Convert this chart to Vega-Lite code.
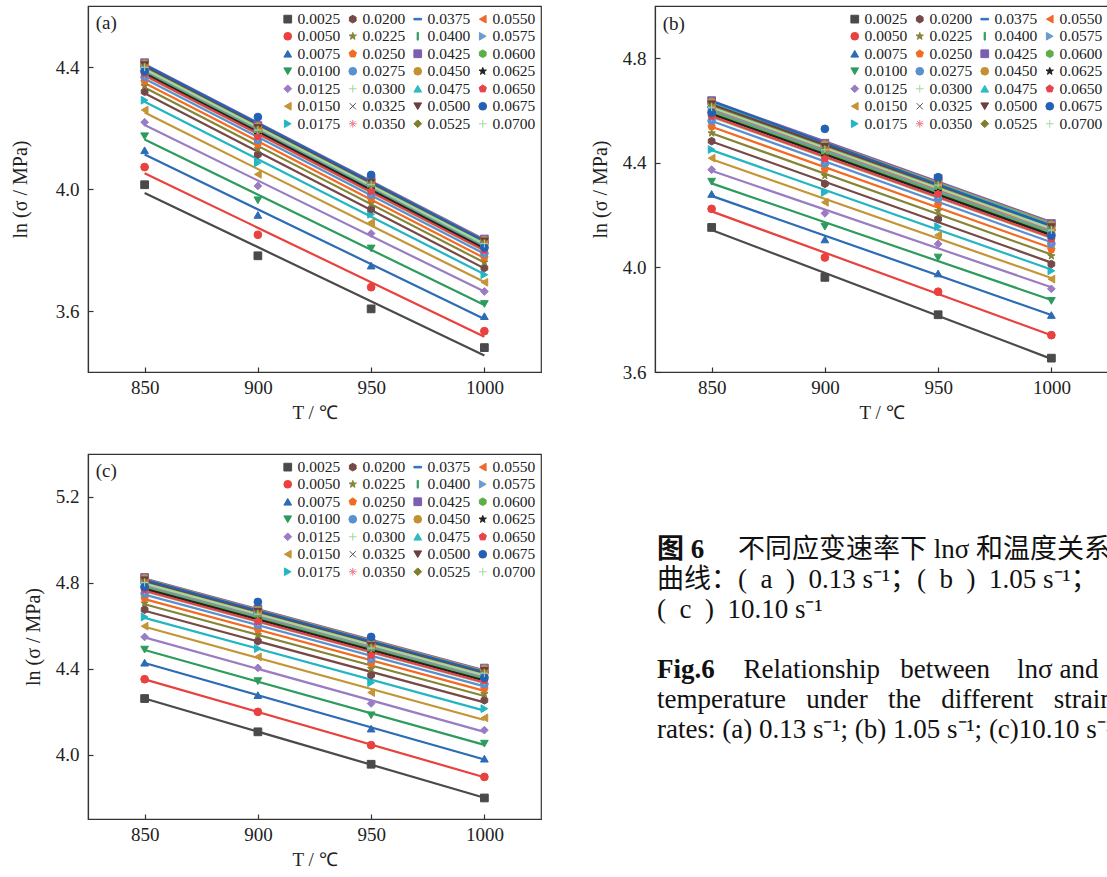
{
"$schema": "https://vega.github.io/schema/vega-lite/v6.json",
"padding": {"left": 9, "top": 5, "right": 0, "bottom": 0},
"background": "white",
"config": {
 "font": "Liberation Serif",
 "style": {"guide-label": {"font": "Liberation Serif"}, "guide-title": {"font": "Liberation Serif"}},
 "view": {"stroke": "#333", "strokeWidth": 1.2},
 "axis": {"grid": false, "domainColor": "#333", "domainWidth": 1.2, "tickColor": "#333", "tickSize": -5, "tickWidth": 1.2, "labelFont": "Liberation Serif", "labelFontSize": 19, "labelColor": "#222", "titleFont": "Liberation Serif", "titleFontWeight": "normal", "titleColor": "#222"},
 "axisX": {"labelPadding": 11, "titleFontSize": 19, "titlePadding": 6},
 "axisY": {"labelPadding": 14, "titleFontSize": 20},
 "legend": {"orient": "top-right", "offset": 5, "padding": 0, "columns": 4, "labelFont": "Liberation Serif", "labelFontSize": 15.5, "labelColor": "#222", "symbolSize": 60, "symbolStrokeWidth": 1, "rowPadding": 0.5, "columnPadding": 4, "labelOffset": 2}
},
"datasets": {"pts": [
{"p":"a","s":"0.0025","T":850,"v":4.014},{"p":"a","s":"0.0025","T":900,"v":3.781},{"p":"a","s":"0.0025","T":950,"v":3.607},{"p":"a","s":"0.0025","T":1000,"v":3.480},
{"p":"a","s":"0.0050","T":850,"v":4.072},{"p":"a","s":"0.0050","T":900,"v":3.850},{"p":"a","s":"0.0050","T":950,"v":3.678},{"p":"a","s":"0.0050","T":1000,"v":3.534},
{"p":"a","s":"0.0075","T":850,"v":4.127},{"p":"a","s":"0.0075","T":900,"v":3.915},{"p":"a","s":"0.0075","T":950,"v":3.749},{"p":"a","s":"0.0075","T":1000,"v":3.583},
{"p":"a","s":"0.0100","T":850,"v":4.173},{"p":"a","s":"0.0100","T":900,"v":3.963},{"p":"a","s":"0.0100","T":950,"v":3.805},{"p":"a","s":"0.0100","T":1000,"v":3.623},
{"p":"a","s":"0.0125","T":850,"v":4.219},{"p":"a","s":"0.0125","T":900,"v":4.010},{"p":"a","s":"0.0125","T":950,"v":3.854},{"p":"a","s":"0.0125","T":1000,"v":3.664},
{"p":"a","s":"0.0150","T":850,"v":4.259},{"p":"a","s":"0.0150","T":900,"v":4.048},{"p":"a","s":"0.0150","T":950,"v":3.890},{"p":"a","s":"0.0150","T":1000,"v":3.694},
{"p":"a","s":"0.0175","T":850,"v":4.291},{"p":"a","s":"0.0175","T":900,"v":4.086},{"p":"a","s":"0.0175","T":950,"v":3.917},{"p":"a","s":"0.0175","T":1000,"v":3.719},
{"p":"a","s":"0.0200","T":850,"v":4.319},{"p":"a","s":"0.0200","T":900,"v":4.113},{"p":"a","s":"0.0200","T":950,"v":3.934},{"p":"a","s":"0.0200","T":1000,"v":3.741},
{"p":"a","s":"0.0225","T":850,"v":4.338},{"p":"a","s":"0.0225","T":900,"v":4.132},{"p":"a","s":"0.0225","T":950,"v":3.953},{"p":"a","s":"0.0225","T":1000,"v":3.760},
{"p":"a","s":"0.0250","T":850,"v":4.353},{"p":"a","s":"0.0250","T":900,"v":4.147},{"p":"a","s":"0.0250","T":950,"v":3.968},{"p":"a","s":"0.0250","T":1000,"v":3.775},
{"p":"a","s":"0.0275","T":850,"v":4.367},{"p":"a","s":"0.0275","T":900,"v":4.161},{"p":"a","s":"0.0275","T":950,"v":3.982},{"p":"a","s":"0.0275","T":1000,"v":3.789},
{"p":"a","s":"0.0300","T":850,"v":4.376},{"p":"a","s":"0.0300","T":900,"v":4.170},{"p":"a","s":"0.0300","T":950,"v":3.991},{"p":"a","s":"0.0300","T":1000,"v":3.798},
{"p":"a","s":"0.0325","T":850,"v":4.384},{"p":"a","s":"0.0325","T":900,"v":4.178},{"p":"a","s":"0.0325","T":950,"v":3.999},{"p":"a","s":"0.0325","T":1000,"v":3.806},
{"p":"a","s":"0.0350","T":850,"v":4.391},{"p":"a","s":"0.0350","T":900,"v":4.185},{"p":"a","s":"0.0350","T":950,"v":4.006},{"p":"a","s":"0.0350","T":1000,"v":3.813},
{"p":"a","s":"0.0375","T":850,"v":4.399},{"p":"a","s":"0.0375","T":900,"v":4.193},{"p":"a","s":"0.0375","T":950,"v":4.014},{"p":"a","s":"0.0375","T":1000,"v":3.821},
{"p":"a","s":"0.0400","T":850,"v":4.406},{"p":"a","s":"0.0400","T":900,"v":4.200},{"p":"a","s":"0.0400","T":950,"v":4.021},{"p":"a","s":"0.0400","T":1000,"v":3.828},
{"p":"a","s":"0.0425","T":850,"v":4.414},{"p":"a","s":"0.0425","T":900,"v":4.208},{"p":"a","s":"0.0425","T":950,"v":4.029},{"p":"a","s":"0.0425","T":1000,"v":3.836},
{"p":"a","s":"0.0450","T":850,"v":4.411},{"p":"a","s":"0.0450","T":900,"v":4.205},{"p":"a","s":"0.0450","T":950,"v":4.026},{"p":"a","s":"0.0450","T":1000,"v":3.833},
{"p":"a","s":"0.0475","T":850,"v":4.408},{"p":"a","s":"0.0475","T":900,"v":4.202},{"p":"a","s":"0.0475","T":950,"v":4.023},{"p":"a","s":"0.0475","T":1000,"v":3.830},
{"p":"a","s":"0.0500","T":850,"v":4.406},{"p":"a","s":"0.0500","T":900,"v":4.200},{"p":"a","s":"0.0500","T":950,"v":4.021},{"p":"a","s":"0.0500","T":1000,"v":3.828},
{"p":"a","s":"0.0525","T":850,"v":4.401},{"p":"a","s":"0.0525","T":900,"v":4.195},{"p":"a","s":"0.0525","T":950,"v":4.016},{"p":"a","s":"0.0525","T":1000,"v":3.823},
{"p":"a","s":"0.0550","T":850,"v":4.395},{"p":"a","s":"0.0550","T":900,"v":4.189},{"p":"a","s":"0.0550","T":950,"v":4.010},{"p":"a","s":"0.0550","T":1000,"v":3.817},
{"p":"a","s":"0.0575","T":850,"v":4.391},{"p":"a","s":"0.0575","T":900,"v":4.185},{"p":"a","s":"0.0575","T":950,"v":4.006},{"p":"a","s":"0.0575","T":1000,"v":3.813},
{"p":"a","s":"0.0600","T":850,"v":4.387},{"p":"a","s":"0.0600","T":900,"v":4.181},{"p":"a","s":"0.0600","T":950,"v":4.002},{"p":"a","s":"0.0600","T":1000,"v":3.809},
{"p":"a","s":"0.0625","T":850,"v":4.384},{"p":"a","s":"0.0625","T":900,"v":4.178},{"p":"a","s":"0.0625","T":950,"v":3.999},{"p":"a","s":"0.0625","T":1000,"v":3.806},
{"p":"a","s":"0.0650","T":850,"v":4.378},{"p":"a","s":"0.0650","T":900,"v":4.172},{"p":"a","s":"0.0650","T":950,"v":3.993},{"p":"a","s":"0.0650","T":1000,"v":3.800},
{"p":"a","s":"0.0675","T":850,"v":4.386},{"p":"a","s":"0.0675","T":900,"v":4.236},{"p":"a","s":"0.0675","T":950,"v":4.046},{"p":"a","s":"0.0675","T":1000,"v":3.808},
{"p":"a","s":"0.0700","T":850,"v":4.399},{"p":"a","s":"0.0700","T":900,"v":4.193},{"p":"a","s":"0.0700","T":950,"v":4.014},{"p":"a","s":"0.0700","T":1000,"v":3.821},
{"p":"b","s":"0.0025","T":850,"v":4.153},{"p":"b","s":"0.0025","T":900,"v":3.962},{"p":"b","s":"0.0025","T":950,"v":3.819},{"p":"b","s":"0.0025","T":1000,"v":3.653},
{"p":"b","s":"0.0050","T":850,"v":4.224},{"p":"b","s":"0.0050","T":900,"v":4.038},{"p":"b","s":"0.0050","T":950,"v":3.907},{"p":"b","s":"0.0050","T":1000,"v":3.741},
{"p":"b","s":"0.0075","T":850,"v":4.281},{"p":"b","s":"0.0075","T":900,"v":4.107},{"p":"b","s":"0.0075","T":950,"v":3.977},{"p":"b","s":"0.0075","T":1000,"v":3.818},
{"p":"b","s":"0.0100","T":850,"v":4.328},{"p":"b","s":"0.0100","T":900,"v":4.156},{"p":"b","s":"0.0100","T":950,"v":4.038},{"p":"b","s":"0.0100","T":1000,"v":3.872},
{"p":"b","s":"0.0125","T":850,"v":4.374},{"p":"b","s":"0.0125","T":900,"v":4.207},{"p":"b","s":"0.0125","T":950,"v":4.090},{"p":"b","s":"0.0125","T":1000,"v":3.918},
{"p":"b","s":"0.0150","T":850,"v":4.418},{"p":"b","s":"0.0150","T":900,"v":4.249},{"p":"b","s":"0.0150","T":950,"v":4.124},{"p":"b","s":"0.0150","T":1000,"v":3.955},
{"p":"b","s":"0.0175","T":850,"v":4.451},{"p":"b","s":"0.0175","T":900,"v":4.287},{"p":"b","s":"0.0175","T":950,"v":4.156},{"p":"b","s":"0.0175","T":1000,"v":3.987},
{"p":"b","s":"0.0200","T":850,"v":4.483},{"p":"b","s":"0.0200","T":900,"v":4.320},{"p":"b","s":"0.0200","T":950,"v":4.185},{"p":"b","s":"0.0200","T":1000,"v":4.013},
{"p":"b","s":"0.0225","T":850,"v":4.514},{"p":"b","s":"0.0225","T":900,"v":4.351},{"p":"b","s":"0.0225","T":950,"v":4.216},{"p":"b","s":"0.0225","T":1000,"v":4.044},
{"p":"b","s":"0.0250","T":850,"v":4.539},{"p":"b","s":"0.0250","T":900,"v":4.376},{"p":"b","s":"0.0250","T":950,"v":4.241},{"p":"b","s":"0.0250","T":1000,"v":4.069},
{"p":"b","s":"0.0275","T":850,"v":4.561},{"p":"b","s":"0.0275","T":900,"v":4.398},{"p":"b","s":"0.0275","T":950,"v":4.263},{"p":"b","s":"0.0275","T":1000,"v":4.091},
{"p":"b","s":"0.0300","T":850,"v":4.576},{"p":"b","s":"0.0300","T":900,"v":4.413},{"p":"b","s":"0.0300","T":950,"v":4.278},{"p":"b","s":"0.0300","T":1000,"v":4.106},
{"p":"b","s":"0.0325","T":850,"v":4.588},{"p":"b","s":"0.0325","T":900,"v":4.425},{"p":"b","s":"0.0325","T":950,"v":4.290},{"p":"b","s":"0.0325","T":1000,"v":4.118},
{"p":"b","s":"0.0350","T":850,"v":4.601},{"p":"b","s":"0.0350","T":900,"v":4.438},{"p":"b","s":"0.0350","T":950,"v":4.303},{"p":"b","s":"0.0350","T":1000,"v":4.131},
{"p":"b","s":"0.0375","T":850,"v":4.613},{"p":"b","s":"0.0375","T":900,"v":4.450},{"p":"b","s":"0.0375","T":950,"v":4.315},{"p":"b","s":"0.0375","T":1000,"v":4.143},
{"p":"b","s":"0.0400","T":850,"v":4.624},{"p":"b","s":"0.0400","T":900,"v":4.461},{"p":"b","s":"0.0400","T":950,"v":4.326},{"p":"b","s":"0.0400","T":1000,"v":4.154},
{"p":"b","s":"0.0425","T":850,"v":4.638},{"p":"b","s":"0.0425","T":900,"v":4.475},{"p":"b","s":"0.0425","T":950,"v":4.340},{"p":"b","s":"0.0425","T":1000,"v":4.168},
{"p":"b","s":"0.0450","T":850,"v":4.633},{"p":"b","s":"0.0450","T":900,"v":4.470},{"p":"b","s":"0.0450","T":950,"v":4.335},{"p":"b","s":"0.0450","T":1000,"v":4.163},
{"p":"b","s":"0.0475","T":850,"v":4.629},{"p":"b","s":"0.0475","T":900,"v":4.466},{"p":"b","s":"0.0475","T":950,"v":4.331},{"p":"b","s":"0.0475","T":1000,"v":4.159},
{"p":"b","s":"0.0500","T":850,"v":4.624},{"p":"b","s":"0.0500","T":900,"v":4.461},{"p":"b","s":"0.0500","T":950,"v":4.326},{"p":"b","s":"0.0500","T":1000,"v":4.154},
{"p":"b","s":"0.0525","T":850,"v":4.616},{"p":"b","s":"0.0525","T":900,"v":4.453},{"p":"b","s":"0.0525","T":950,"v":4.318},{"p":"b","s":"0.0525","T":1000,"v":4.146},
{"p":"b","s":"0.0550","T":850,"v":4.607},{"p":"b","s":"0.0550","T":900,"v":4.444},{"p":"b","s":"0.0550","T":950,"v":4.309},{"p":"b","s":"0.0550","T":1000,"v":4.137},
{"p":"b","s":"0.0575","T":850,"v":4.601},{"p":"b","s":"0.0575","T":900,"v":4.438},{"p":"b","s":"0.0575","T":950,"v":4.303},{"p":"b","s":"0.0575","T":1000,"v":4.131},
{"p":"b","s":"0.0600","T":850,"v":4.595},{"p":"b","s":"0.0600","T":900,"v":4.432},{"p":"b","s":"0.0600","T":950,"v":4.297},{"p":"b","s":"0.0600","T":1000,"v":4.125},
{"p":"b","s":"0.0625","T":850,"v":4.588},{"p":"b","s":"0.0625","T":900,"v":4.425},{"p":"b","s":"0.0625","T":950,"v":4.290},{"p":"b","s":"0.0625","T":1000,"v":4.118},
{"p":"b","s":"0.0650","T":850,"v":4.579},{"p":"b","s":"0.0650","T":900,"v":4.416},{"p":"b","s":"0.0650","T":950,"v":4.281},{"p":"b","s":"0.0650","T":1000,"v":4.109},
{"p":"b","s":"0.0675","T":850,"v":4.592},{"p":"b","s":"0.0675","T":900,"v":4.530},{"p":"b","s":"0.0675","T":950,"v":4.345},{"p":"b","s":"0.0675","T":1000,"v":4.122},
{"p":"b","s":"0.0700","T":850,"v":4.613},{"p":"b","s":"0.0700","T":900,"v":4.450},{"p":"b","s":"0.0700","T":950,"v":4.315},{"p":"b","s":"0.0700","T":1000,"v":4.143},
{"p":"c","s":"0.0025","T":850,"v":4.261},{"p":"c","s":"0.0025","T":900,"v":4.106},{"p":"c","s":"0.0025","T":950,"v":3.955},{"p":"c","s":"0.0025","T":1000,"v":3.798},
{"p":"c","s":"0.0050","T":850,"v":4.351},{"p":"c","s":"0.0050","T":900,"v":4.199},{"p":"c","s":"0.0050","T":950,"v":4.044},{"p":"c","s":"0.0050","T":1000,"v":3.896},
{"p":"c","s":"0.0075","T":850,"v":4.428},{"p":"c","s":"0.0075","T":900,"v":4.277},{"p":"c","s":"0.0075","T":950,"v":4.121},{"p":"c","s":"0.0075","T":1000,"v":3.981},
{"p":"c","s":"0.0100","T":850,"v":4.489},{"p":"c","s":"0.0100","T":900,"v":4.342},{"p":"c","s":"0.0100","T":950,"v":4.183},{"p":"c","s":"0.0100","T":1000,"v":4.051},
{"p":"c","s":"0.0125","T":850,"v":4.548},{"p":"c","s":"0.0125","T":900,"v":4.404},{"p":"c","s":"0.0125","T":950,"v":4.238},{"p":"c","s":"0.0125","T":1000,"v":4.114},
{"p":"c","s":"0.0150","T":850,"v":4.598},{"p":"c","s":"0.0150","T":900,"v":4.455},{"p":"c","s":"0.0150","T":950,"v":4.289},{"p":"c","s":"0.0150","T":1000,"v":4.171},
{"p":"c","s":"0.0175","T":850,"v":4.641},{"p":"c","s":"0.0175","T":900,"v":4.494},{"p":"c","s":"0.0175","T":950,"v":4.335},{"p":"c","s":"0.0175","T":1000,"v":4.214},
{"p":"c","s":"0.0200","T":850,"v":4.675},{"p":"c","s":"0.0200","T":900,"v":4.528},{"p":"c","s":"0.0200","T":950,"v":4.370},{"p":"c","s":"0.0200","T":1000,"v":4.253},
{"p":"c","s":"0.0225","T":850,"v":4.705},{"p":"c","s":"0.0225","T":900,"v":4.558},{"p":"c","s":"0.0225","T":950,"v":4.400},{"p":"c","s":"0.0225","T":1000,"v":4.283},
{"p":"c","s":"0.0250","T":850,"v":4.729},{"p":"c","s":"0.0250","T":900,"v":4.582},{"p":"c","s":"0.0250","T":950,"v":4.424},{"p":"c","s":"0.0250","T":1000,"v":4.307},
{"p":"c","s":"0.0275","T":850,"v":4.750},{"p":"c","s":"0.0275","T":900,"v":4.603},{"p":"c","s":"0.0275","T":950,"v":4.445},{"p":"c","s":"0.0275","T":1000,"v":4.328},
{"p":"c","s":"0.0300","T":850,"v":4.765},{"p":"c","s":"0.0300","T":900,"v":4.618},{"p":"c","s":"0.0300","T":950,"v":4.460},{"p":"c","s":"0.0300","T":1000,"v":4.343},
{"p":"c","s":"0.0325","T":850,"v":4.777},{"p":"c","s":"0.0325","T":900,"v":4.630},{"p":"c","s":"0.0325","T":950,"v":4.472},{"p":"c","s":"0.0325","T":1000,"v":4.355},
{"p":"c","s":"0.0350","T":850,"v":4.789},{"p":"c","s":"0.0350","T":900,"v":4.642},{"p":"c","s":"0.0350","T":950,"v":4.484},{"p":"c","s":"0.0350","T":1000,"v":4.367},
{"p":"c","s":"0.0375","T":850,"v":4.801},{"p":"c","s":"0.0375","T":900,"v":4.654},{"p":"c","s":"0.0375","T":950,"v":4.496},{"p":"c","s":"0.0375","T":1000,"v":4.379},
{"p":"c","s":"0.0400","T":850,"v":4.812},{"p":"c","s":"0.0400","T":900,"v":4.665},{"p":"c","s":"0.0400","T":950,"v":4.507},{"p":"c","s":"0.0400","T":1000,"v":4.390},
{"p":"c","s":"0.0425","T":850,"v":4.825},{"p":"c","s":"0.0425","T":900,"v":4.678},{"p":"c","s":"0.0425","T":950,"v":4.520},{"p":"c","s":"0.0425","T":1000,"v":4.403},
{"p":"c","s":"0.0450","T":850,"v":4.821},{"p":"c","s":"0.0450","T":900,"v":4.674},{"p":"c","s":"0.0450","T":950,"v":4.516},{"p":"c","s":"0.0450","T":1000,"v":4.399},
{"p":"c","s":"0.0475","T":850,"v":4.816},{"p":"c","s":"0.0475","T":900,"v":4.669},{"p":"c","s":"0.0475","T":950,"v":4.511},{"p":"c","s":"0.0475","T":1000,"v":4.394},
{"p":"c","s":"0.0500","T":850,"v":4.812},{"p":"c","s":"0.0500","T":900,"v":4.665},{"p":"c","s":"0.0500","T":950,"v":4.507},{"p":"c","s":"0.0500","T":1000,"v":4.390},
{"p":"c","s":"0.0525","T":850,"v":4.804},{"p":"c","s":"0.0525","T":900,"v":4.657},{"p":"c","s":"0.0525","T":950,"v":4.499},{"p":"c","s":"0.0525","T":1000,"v":4.382},
{"p":"c","s":"0.0550","T":850,"v":4.795},{"p":"c","s":"0.0550","T":900,"v":4.648},{"p":"c","s":"0.0550","T":950,"v":4.490},{"p":"c","s":"0.0550","T":1000,"v":4.373},
{"p":"c","s":"0.0575","T":850,"v":4.789},{"p":"c","s":"0.0575","T":900,"v":4.642},{"p":"c","s":"0.0575","T":950,"v":4.484},{"p":"c","s":"0.0575","T":1000,"v":4.367},
{"p":"c","s":"0.0600","T":850,"v":4.783},{"p":"c","s":"0.0600","T":900,"v":4.636},{"p":"c","s":"0.0600","T":950,"v":4.478},{"p":"c","s":"0.0600","T":1000,"v":4.361},
{"p":"c","s":"0.0625","T":850,"v":4.777},{"p":"c","s":"0.0625","T":900,"v":4.630},{"p":"c","s":"0.0625","T":950,"v":4.472},{"p":"c","s":"0.0625","T":1000,"v":4.355},
{"p":"c","s":"0.0650","T":850,"v":4.768},{"p":"c","s":"0.0650","T":900,"v":4.621},{"p":"c","s":"0.0650","T":950,"v":4.463},{"p":"c","s":"0.0650","T":1000,"v":4.346},
{"p":"c","s":"0.0675","T":850,"v":4.780},{"p":"c","s":"0.0675","T":900,"v":4.711},{"p":"c","s":"0.0675","T":950,"v":4.548},{"p":"c","s":"0.0675","T":1000,"v":4.358},
{"p":"c","s":"0.0700","T":850,"v":4.801},{"p":"c","s":"0.0700","T":900,"v":4.654},{"p":"c","s":"0.0700","T":950,"v":4.496},{"p":"c","s":"0.0700","T":1000,"v":4.379}
]},
"columns": 2,
"spacing": {"row": 82, "column": 114},
"bounds": "flush",
"resolve": {"scale": {"color": "independent", "fill": "independent", "stroke": "independent", "shape": "independent"}, "legend": {"color": "independent", "fill": "independent", "stroke": "independent", "shape": "independent"}},
"concat": [
{
 "width": 453, "height": 366,
 "layer": [
  {"data": {"name": "pts"},
   "transform": [{"filter": {"field": "p", "equal": "a"}}, {"regression": "v", "on": "T", "groupby": ["s"], "extent": [850, 1000]}],
   "mark": {"type": "line", "strokeWidth": 2.2},
   "encoding": {
    "x": {"field": "T", "type": "quantitative", "scale": {"domain": [825, 1025], "nice": false, "zero": false}, "axis": {"values": [850, 900, 950, 1000], "format": "d", "title": "T / ℃", "labelFont": "Liberation Serif", "titleFont": "Liberation Serif"}},
    "y": {"field": "v", "type": "quantitative", "scale": {"domain": [3.4, 4.6], "nice": false, "zero": false}, "axis": {"values": [3.6, 4.0, 4.4], "format": ".1f", "title": "ln (σ / MPa)", "titlePadding": 25, "labelFont": "Liberation Serif", "titleFont": "Liberation Serif"}},
    "color": {"field": "s", "type": "nominal", "scale": {"domain": ["0.0025","0.0200","0.0375","0.0550","0.0050","0.0225","0.0400","0.0575","0.0075","0.0250","0.0425","0.0600","0.0100","0.0275","0.0450","0.0625","0.0125","0.0300","0.0475","0.0650","0.0150","0.0325","0.0500","0.0675","0.0175","0.0350","0.0525","0.0700"], "range": ["#4a4a4a","#774848","#2e6fc0","#f0692a","#e8413e","#85853a","#2e9b5e","#6a9bd1","#2b6cb5","#f26b21","#7a5fb0","#5eae47","#2e9b5e","#5a8fd0","#c29232","#222222","#9a7cc4","#a6d6a0","#2cbcbc","#e8424a","#c49435","#555555","#6e3e3e","#2361b5","#23b5c3","#f07a86","#7d7d2a","#a0d8a8"]}, "legend": null}
   }},
  {"data": {"name": "pts"},
   "transform": [{"filter": {"field": "p", "equal": "a"}}],
   "mark": {"type": "point", "filled": true, "opacity": 1, "size": 60, "strokeWidth": 1},
   "encoding": {
    "x": {"field": "T", "type": "quantitative"},
    "y": {"field": "v", "type": "quantitative"},
    "fill": {"field": "s", "type": "nominal", "scale": {"domain": ["0.0025","0.0050","0.0075","0.0100","0.0125","0.0150","0.0175","0.0200","0.0225","0.0250","0.0275","0.0300","0.0325","0.0350","0.0375","0.0400","0.0425","0.0450","0.0475","0.0500","0.0525","0.0550","0.0575","0.0600","0.0625","0.0650","0.0675","0.0700"], "range": ["#4a4a4a","#e8413e","#2b6cb5","#2e9b5e","#9a7cc4","#c49435","#23b5c3","#774848","#85853a","#f26b21","#5a8fd0","#a6d6a0","#555555","#f07a86","#2e6fc0","#2e9b5e","#7a5fb0","#c29232","#2cbcbc","#6e3e3e","#7d7d2a","#f0692a","#6a9bd1","#5eae47","#222222","#e8424a","#2361b5","#a0d8a8"]}, "legend": {"title": null}},
    "stroke": {"field": "s", "type": "nominal", "scale": {"domain": ["0.0025","0.0050","0.0075","0.0100","0.0125","0.0150","0.0175","0.0200","0.0225","0.0250","0.0275","0.0300","0.0325","0.0350","0.0375","0.0400","0.0425","0.0450","0.0475","0.0500","0.0525","0.0550","0.0575","0.0600","0.0625","0.0650","0.0675","0.0700"], "range": ["#4a4a4a","#e8413e","#2b6cb5","#2e9b5e","#9a7cc4","#c49435","#23b5c3","#774848","#85853a","#f26b21","#5a8fd0","#a6d6a0","#555555","#f07a86","#2e6fc0","#2e9b5e","#7a5fb0","#c29232","#2cbcbc","#6e3e3e","#7d7d2a","#f0692a","#6a9bd1","#5eae47","#222222","#e8424a","#2361b5","#a0d8a8"]}, "legend": {"title": null}},
    "shape": {"field": "s", "type": "nominal", "scale": {"domain": ["0.0025","0.0050","0.0075","0.0100","0.0125","0.0150","0.0175","0.0200","0.0225","0.0250","0.0275","0.0300","0.0325","0.0350","0.0375","0.0400","0.0425","0.0450","0.0475","0.0500","0.0525","0.0550","0.0575","0.0600","0.0625","0.0650","0.0675","0.0700"], "range": ["square","circle","triangle-up","triangle-down","diamond","triangle-left","triangle-right","M0,-1L0.866,-0.5L0.866,0.5L0,1L-0.866,0.5L-0.866,-0.5Z","M0,-1L0.235,-0.324L0.951,-0.309L0.38,0.124L0.588,0.809L0,0.4L-0.588,0.809L-0.38,0.124L-0.951,-0.309L-0.235,-0.324Z","M0,-1L0.951,-0.309L0.588,0.809L-0.588,0.809L-0.951,-0.309Z","circle","M-1,0L1,0M0,-1L0,1","M-0.8,-0.8L0.8,0.8M-0.8,0.8L0.8,-0.8","M-1,0L1,0M0,-1L0,1M-0.7,-0.7L0.7,0.7M-0.7,0.7L0.7,-0.7","M-1,-0.2L1,-0.2L1,0.2L-1,0.2Z","M-0.15,-1L0.15,-1L0.15,1L-0.15,1Z","square","circle","triangle-up","triangle-down","diamond","triangle-left","triangle-right","M0,-1L0.866,-0.5L0.866,0.5L0,1L-0.866,0.5L-0.866,-0.5Z","M0,-1L0.235,-0.324L0.951,-0.309L0.38,0.124L0.588,0.809L0,0.4L-0.588,0.809L-0.38,0.124L-0.951,-0.309L-0.235,-0.324Z","M0,-1L0.951,-0.309L0.588,0.809L-0.588,0.809L-0.951,-0.309Z","circle","M-1,0L1,0M0,-1L0,1"]}, "legend": {"title": null}}
   }},
  {"data": {"values": [{"lab": "(a)"}]},
   "mark": {"type": "text", "align": "left", "baseline": "middle", "fontSize": 19, "font": "Liberation Serif", "color": "#222"},
   "encoding": {"x": {"datum": 828.4, "type": "quantitative"}, "y": {"datum": 4.543, "type": "quantitative"}, "text": {"field": "lab"}}}
 ]
},
{
 "width": 453, "height": 366,
 "layer": [
  {"data": {"name": "pts"},
   "transform": [{"filter": {"field": "p", "equal": "b"}}, {"regression": "v", "on": "T", "groupby": ["s"], "extent": [850, 1000]}],
   "mark": {"type": "line", "strokeWidth": 2.2},
   "encoding": {
    "x": {"field": "T", "type": "quantitative", "scale": {"domain": [825, 1025], "nice": false, "zero": false}, "axis": {"values": [850, 900, 950, 1000], "format": "d", "title": "T / ℃", "labelFont": "Liberation Serif", "titleFont": "Liberation Serif"}},
    "y": {"field": "v", "type": "quantitative", "scale": {"domain": [3.6, 5.0], "nice": false, "zero": false}, "axis": {"values": [3.6, 4.0, 4.4, 4.8], "format": ".1f", "title": "ln (σ / MPa)", "titlePadding": 12, "labelFont": "Liberation Serif", "titleFont": "Liberation Serif"}},
    "color": {"field": "s", "type": "nominal", "scale": {"domain": ["0.0025","0.0200","0.0375","0.0550","0.0050","0.0225","0.0400","0.0575","0.0075","0.0250","0.0425","0.0600","0.0100","0.0275","0.0450","0.0625","0.0125","0.0300","0.0475","0.0650","0.0150","0.0325","0.0500","0.0675","0.0175","0.0350","0.0525","0.0700"], "range": ["#4a4a4a","#774848","#2e6fc0","#f0692a","#e8413e","#85853a","#2e9b5e","#6a9bd1","#2b6cb5","#f26b21","#7a5fb0","#5eae47","#2e9b5e","#5a8fd0","#c29232","#222222","#9a7cc4","#a6d6a0","#2cbcbc","#e8424a","#c49435","#555555","#6e3e3e","#2361b5","#23b5c3","#f07a86","#7d7d2a","#a0d8a8"]}, "legend": null}
   }},
  {"data": {"name": "pts"},
   "transform": [{"filter": {"field": "p", "equal": "b"}}],
   "mark": {"type": "point", "filled": true, "opacity": 1, "size": 60, "strokeWidth": 1},
   "encoding": {
    "x": {"field": "T", "type": "quantitative"},
    "y": {"field": "v", "type": "quantitative"},
    "fill": {"field": "s", "type": "nominal", "scale": {"domain": ["0.0025","0.0050","0.0075","0.0100","0.0125","0.0150","0.0175","0.0200","0.0225","0.0250","0.0275","0.0300","0.0325","0.0350","0.0375","0.0400","0.0425","0.0450","0.0475","0.0500","0.0525","0.0550","0.0575","0.0600","0.0625","0.0650","0.0675","0.0700"], "range": ["#4a4a4a","#e8413e","#2b6cb5","#2e9b5e","#9a7cc4","#c49435","#23b5c3","#774848","#85853a","#f26b21","#5a8fd0","#a6d6a0","#555555","#f07a86","#2e6fc0","#2e9b5e","#7a5fb0","#c29232","#2cbcbc","#6e3e3e","#7d7d2a","#f0692a","#6a9bd1","#5eae47","#222222","#e8424a","#2361b5","#a0d8a8"]}, "legend": {"title": null}},
    "stroke": {"field": "s", "type": "nominal", "scale": {"domain": ["0.0025","0.0050","0.0075","0.0100","0.0125","0.0150","0.0175","0.0200","0.0225","0.0250","0.0275","0.0300","0.0325","0.0350","0.0375","0.0400","0.0425","0.0450","0.0475","0.0500","0.0525","0.0550","0.0575","0.0600","0.0625","0.0650","0.0675","0.0700"], "range": ["#4a4a4a","#e8413e","#2b6cb5","#2e9b5e","#9a7cc4","#c49435","#23b5c3","#774848","#85853a","#f26b21","#5a8fd0","#a6d6a0","#555555","#f07a86","#2e6fc0","#2e9b5e","#7a5fb0","#c29232","#2cbcbc","#6e3e3e","#7d7d2a","#f0692a","#6a9bd1","#5eae47","#222222","#e8424a","#2361b5","#a0d8a8"]}, "legend": {"title": null}},
    "shape": {"field": "s", "type": "nominal", "scale": {"domain": ["0.0025","0.0050","0.0075","0.0100","0.0125","0.0150","0.0175","0.0200","0.0225","0.0250","0.0275","0.0300","0.0325","0.0350","0.0375","0.0400","0.0425","0.0450","0.0475","0.0500","0.0525","0.0550","0.0575","0.0600","0.0625","0.0650","0.0675","0.0700"], "range": ["square","circle","triangle-up","triangle-down","diamond","triangle-left","triangle-right","M0,-1L0.866,-0.5L0.866,0.5L0,1L-0.866,0.5L-0.866,-0.5Z","M0,-1L0.235,-0.324L0.951,-0.309L0.38,0.124L0.588,0.809L0,0.4L-0.588,0.809L-0.38,0.124L-0.951,-0.309L-0.235,-0.324Z","M0,-1L0.951,-0.309L0.588,0.809L-0.588,0.809L-0.951,-0.309Z","circle","M-1,0L1,0M0,-1L0,1","M-0.8,-0.8L0.8,0.8M-0.8,0.8L0.8,-0.8","M-1,0L1,0M0,-1L0,1M-0.7,-0.7L0.7,0.7M-0.7,0.7L0.7,-0.7","M-1,-0.2L1,-0.2L1,0.2L-1,0.2Z","M-0.15,-1L0.15,-1L0.15,1L-0.15,1Z","square","circle","triangle-up","triangle-down","diamond","triangle-left","triangle-right","M0,-1L0.866,-0.5L0.866,0.5L0,1L-0.866,0.5L-0.866,-0.5Z","M0,-1L0.235,-0.324L0.951,-0.309L0.38,0.124L0.588,0.809L0,0.4L-0.588,0.809L-0.38,0.124L-0.951,-0.309L-0.235,-0.324Z","M0,-1L0.951,-0.309L0.588,0.809L-0.588,0.809L-0.951,-0.309Z","circle","M-1,0L1,0M0,-1L0,1"]}, "legend": {"title": null}}
   }},
  {"data": {"values": [{"lab": "(b)"}]},
   "mark": {"type": "text", "align": "left", "baseline": "middle", "fontSize": 19, "font": "Liberation Serif", "color": "#222"},
   "encoding": {"x": {"datum": 828.4, "type": "quantitative"}, "y": {"datum": 4.933, "type": "quantitative"}, "text": {"field": "lab"}}}
 ]
},
{
 "width": 453, "height": 365,
 "layer": [
  {"data": {"name": "pts"},
   "transform": [{"filter": {"field": "p", "equal": "c"}}, {"regression": "v", "on": "T", "groupby": ["s"], "extent": [850, 1000]}],
   "mark": {"type": "line", "strokeWidth": 2.2},
   "encoding": {
    "x": {"field": "T", "type": "quantitative", "scale": {"domain": [825, 1025], "nice": false, "zero": false}, "axis": {"values": [850, 900, 950, 1000], "format": "d", "title": "T / ℃", "labelFont": "Liberation Serif", "titleFont": "Liberation Serif"}},
    "y": {"field": "v", "type": "quantitative", "scale": {"domain": [3.7, 5.4], "nice": false, "zero": false}, "axis": {"values": [4.0, 4.4, 4.8, 5.2], "format": ".1f", "title": "ln (σ / MPa)", "titlePadding": 12, "labelFont": "Liberation Serif", "titleFont": "Liberation Serif"}},
    "color": {"field": "s", "type": "nominal", "scale": {"domain": ["0.0025","0.0200","0.0375","0.0550","0.0050","0.0225","0.0400","0.0575","0.0075","0.0250","0.0425","0.0600","0.0100","0.0275","0.0450","0.0625","0.0125","0.0300","0.0475","0.0650","0.0150","0.0325","0.0500","0.0675","0.0175","0.0350","0.0525","0.0700"], "range": ["#4a4a4a","#774848","#2e6fc0","#f0692a","#e8413e","#85853a","#2e9b5e","#6a9bd1","#2b6cb5","#f26b21","#7a5fb0","#5eae47","#2e9b5e","#5a8fd0","#c29232","#222222","#9a7cc4","#a6d6a0","#2cbcbc","#e8424a","#c49435","#555555","#6e3e3e","#2361b5","#23b5c3","#f07a86","#7d7d2a","#a0d8a8"]}, "legend": null}
   }},
  {"data": {"name": "pts"},
   "transform": [{"filter": {"field": "p", "equal": "c"}}],
   "mark": {"type": "point", "filled": true, "opacity": 1, "size": 60, "strokeWidth": 1},
   "encoding": {
    "x": {"field": "T", "type": "quantitative"},
    "y": {"field": "v", "type": "quantitative"},
    "fill": {"field": "s", "type": "nominal", "scale": {"domain": ["0.0025","0.0050","0.0075","0.0100","0.0125","0.0150","0.0175","0.0200","0.0225","0.0250","0.0275","0.0300","0.0325","0.0350","0.0375","0.0400","0.0425","0.0450","0.0475","0.0500","0.0525","0.0550","0.0575","0.0600","0.0625","0.0650","0.0675","0.0700"], "range": ["#4a4a4a","#e8413e","#2b6cb5","#2e9b5e","#9a7cc4","#c49435","#23b5c3","#774848","#85853a","#f26b21","#5a8fd0","#a6d6a0","#555555","#f07a86","#2e6fc0","#2e9b5e","#7a5fb0","#c29232","#2cbcbc","#6e3e3e","#7d7d2a","#f0692a","#6a9bd1","#5eae47","#222222","#e8424a","#2361b5","#a0d8a8"]}, "legend": {"title": null}},
    "stroke": {"field": "s", "type": "nominal", "scale": {"domain": ["0.0025","0.0050","0.0075","0.0100","0.0125","0.0150","0.0175","0.0200","0.0225","0.0250","0.0275","0.0300","0.0325","0.0350","0.0375","0.0400","0.0425","0.0450","0.0475","0.0500","0.0525","0.0550","0.0575","0.0600","0.0625","0.0650","0.0675","0.0700"], "range": ["#4a4a4a","#e8413e","#2b6cb5","#2e9b5e","#9a7cc4","#c49435","#23b5c3","#774848","#85853a","#f26b21","#5a8fd0","#a6d6a0","#555555","#f07a86","#2e6fc0","#2e9b5e","#7a5fb0","#c29232","#2cbcbc","#6e3e3e","#7d7d2a","#f0692a","#6a9bd1","#5eae47","#222222","#e8424a","#2361b5","#a0d8a8"]}, "legend": {"title": null}},
    "shape": {"field": "s", "type": "nominal", "scale": {"domain": ["0.0025","0.0050","0.0075","0.0100","0.0125","0.0150","0.0175","0.0200","0.0225","0.0250","0.0275","0.0300","0.0325","0.0350","0.0375","0.0400","0.0425","0.0450","0.0475","0.0500","0.0525","0.0550","0.0575","0.0600","0.0625","0.0650","0.0675","0.0700"], "range": ["square","circle","triangle-up","triangle-down","diamond","triangle-left","triangle-right","M0,-1L0.866,-0.5L0.866,0.5L0,1L-0.866,0.5L-0.866,-0.5Z","M0,-1L0.235,-0.324L0.951,-0.309L0.38,0.124L0.588,0.809L0,0.4L-0.588,0.809L-0.38,0.124L-0.951,-0.309L-0.235,-0.324Z","M0,-1L0.951,-0.309L0.588,0.809L-0.588,0.809L-0.951,-0.309Z","circle","M-1,0L1,0M0,-1L0,1","M-0.8,-0.8L0.8,0.8M-0.8,0.8L0.8,-0.8","M-1,0L1,0M0,-1L0,1M-0.7,-0.7L0.7,0.7M-0.7,0.7L0.7,-0.7","M-1,-0.2L1,-0.2L1,0.2L-1,0.2Z","M-0.15,-1L0.15,-1L0.15,1L-0.15,1Z","square","circle","triangle-up","triangle-down","diamond","triangle-left","triangle-right","M0,-1L0.866,-0.5L0.866,0.5L0,1L-0.866,0.5L-0.866,-0.5Z","M0,-1L0.235,-0.324L0.951,-0.309L0.38,0.124L0.588,0.809L0,0.4L-0.588,0.809L-0.38,0.124L-0.951,-0.309L-0.235,-0.324Z","M0,-1L0.951,-0.309L0.588,0.809L-0.588,0.809L-0.951,-0.309Z","circle","M-1,0L1,0M0,-1L0,1"]}, "legend": {"title": null}}
   }},
  {"data": {"values": [{"lab": "(c)"}]},
   "mark": {"type": "text", "align": "left", "baseline": "middle", "fontSize": 19, "font": "Liberation Serif", "color": "#222"},
   "encoding": {"x": {"datum": 828.4, "type": "quantitative"}, "y": {"datum": 5.321, "type": "quantitative"}, "text": {"field": "lab"}}}
 ]
},
{
 "width": 453, "height": 366,
 "view": {"stroke": null},
 "data": {"values": [
  {"line": 1, "part": "head", "w": "bold", "text": "图 6"},
  {"line": 1, "part": "body", "w": "normal", "text": "不同应变速率下 lnσ 和温度关系"},
  {"line": 2, "part": "head", "w": "normal", "text": "曲线：(\u2002a\u2002)\u20020.13 s⁻¹；(\u2002b\u2002)\u20021.05 s⁻¹；"},
  {"line": 3, "part": "head", "w": "normal", "text": "(\u2002c\u2002)\u200210.10 s⁻¹"},
  {"line": 5, "part": "head", "w": "bold", "text": "Fig.6"},
  {"line": 5, "part": "body", "w": "normal", "text": "\u200b\u2009Relationship\u2002 between\u2002\u2002lnσ and"},
  {"line": 6, "part": "head", "w": "normal", "text": "temperature\u2002 under\u2002 the\u2002 different\u2002 strain"},
  {"line": 7, "part": "head", "w": "normal", "text": "rates: (a) 0.13 s⁻¹; (b) 1.05 s⁻¹; (c)10.10 s⁻¹"}
 ]},
 "encoding": {
  "x": {"field": "part", "type": "nominal", "scale": {"type": "point", "domain": ["head", "body"], "range": [2, 83], "padding": 0}, "axis": null},
  "y": {"field": "line", "type": "quantitative", "scale": {"domain": [-2.173, 9.986], "reverse": true, "nice": false, "zero": false}, "axis": null},
  "text": {"field": "text"}
 },
 "layer": [
  {"transform": [{"filter": {"field": "w", "equal": "normal"}}],
   "mark": {"type": "text", "align": "left", "baseline": "middle", "fontSize": 27, "font": "'Liberation Serif', 'Noto Sans CJK SC', serif", "color": "#111"}},
  {"transform": [{"filter": {"field": "w", "equal": "bold"}}],
   "mark": {"type": "text", "align": "left", "baseline": "middle", "fontSize": 27, "fontWeight": "bold", "font": "'Liberation Serif', 'Noto Sans CJK SC', serif", "color": "#111"}}
 ]
}
]
}
